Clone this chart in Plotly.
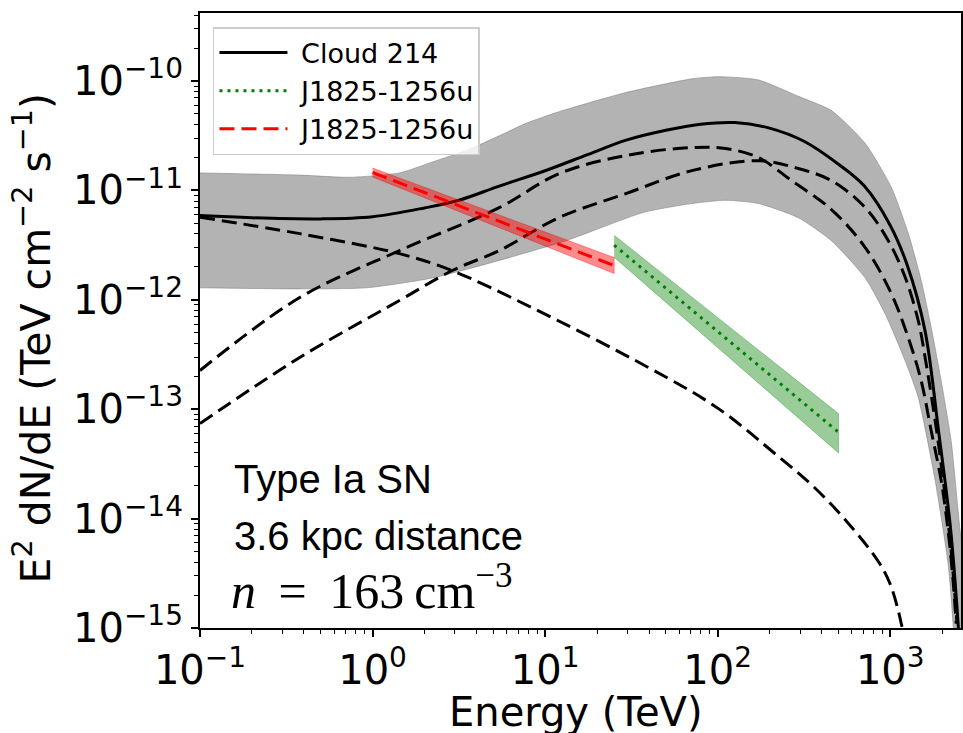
import numpy as np
import plotly.graph_objects as go

# ---------------- data (log10 E [TeV], log10 E^2 dN/dE [TeV cm^-2 s^-1]) ----------------
total_logE = [-1.0, -0.7, -0.3, 0.0, 0.3, 0.5, 0.734, 1.0, 1.25, 1.47, 1.7, 1.9, 2.1, 2.3, 2.5, 2.7, 2.85,
              3.0, 3.1, 3.2, 3.28, 3.35, 3.395]
total_logF = [-11.23, -11.25, -11.26, -11.24, -11.16, -11.09, -10.96, -10.82, -10.67, -10.54, -10.45, -10.395,
              -10.38, -10.43, -10.55, -10.76, -10.96, -11.32, -11.69, -12.27, -13.2, -14.1, -15.0]

comp1_logE = [-1.0, -0.422, 0.156, 0.462, 0.925, 1.6, 2.0, 2.35, 2.55, 2.75, 2.93, 3.0, 3.064, 3.09]
comp1_logF = [-11.245, -11.395, -11.578, -11.734, -12.073, -12.62, -12.99, -13.43, -13.70, -14.03, -14.39,
              -14.6, -14.96, -15.2]

comp2_logE = [-1.0, -0.422, 0.156, 0.734, 1.081, 1.468, 1.850, 2.046, 2.237, 2.428, 2.659, 2.855, 3.006,
              3.104, 3.179, 3.237, 3.295, 3.335, 3.364, 3.382]
comp2_logF = [-12.646, -11.979, -11.55, -11.157, -10.846, -10.681, -10.608, -10.617, -10.70, -10.91, -11.175,
              -11.522, -11.943, -12.345, -12.738, -13.195, -13.652, -14.109, -14.566, -14.959]

comp3_logE = [-1.0, -0.422, 0.156, 0.462, 0.734, 1.081, 1.468, 1.850, 2.237, 2.468, 2.659, 2.855, 2.988,
              3.087, 3.162, 3.202, 3.277, 3.347, 3.387]
comp3_logF = [-13.131, -12.527, -12.006, -11.732, -11.55, -11.248, -11.029, -10.819, -10.728, -10.80, -10.91,
              -11.157, -11.458, -11.796, -12.189, -12.527, -13.29, -14.2, -14.96]

band_up_logE = [-1.0, -0.42, -0.133, 0.156, 0.347, 0.55, 0.734, 0.9, 1.081, 1.468, 1.850, 2.006, 2.237, 2.468,
                2.659, 2.855, 3.006, 3.104, 3.179, 3.237, 3.295, 3.353, 3.405, 3.45]
band_up_logF = [-10.84, -10.86, -10.88, -10.84, -10.74, -10.63, -10.50, -10.38, -10.28, -10.105, -9.98, -9.96,
                -9.99, -10.14, -10.27, -10.57, -10.97, -11.39, -11.82, -12.25, -12.74, -13.29, -14.11, -14.6]
band_lo_logE = [-1.0, -0.42, -0.035, 0.347, 0.734, 1.121, 1.572, 1.850, 2.046, 2.237, 2.468, 2.659, 2.855,
                2.971, 3.087, 3.162, 3.260, 3.335, 3.364, 3.38]
band_lo_logF = [-11.89, -11.90, -11.89, -11.80, -11.64, -11.46, -11.20, -11.12, -11.09, -11.12, -11.25, -11.46,
                -11.80, -12.13, -12.56, -12.89, -13.65, -14.41, -14.96, -15.5]

red_logE = [0.0, 1.40]
red_logF = [-10.836, -11.687]
red_up_logF = [-10.795, -11.614]
red_lo_logF = [-10.877, -11.76]

green_logE = [1.40, 2.70]
green_logF = [-11.50, -13.21]
green_up_logF = [-11.41, -13.04]
green_lo_logF = [-11.61, -13.40]

x_tickvals = [0.1, 1, 10, 100, 1000]
x_ticktext = ["10<sup>−1</sup>", "10<sup>0</sup>", "10<sup>1</sup>", "10<sup>2</sup>", "10<sup>3</sup>"]
y_tickvals = [1e-15, 1e-14, 1e-13, 1e-12, 1e-11, 1e-10]
y_ticktext = ["10<sup>−15</sup>", "10<sup>−14</sup>", "10<sup>−13</sup>", "10<sup>−12</sup>",
              "10<sup>−11</sup>", "10<sup>−10</sup>"]

legend_names = ["Cloud 214", "J1825-1256u", "J1825-1256u"]


def p(a):
    return list(10 ** np.asarray(a, dtype=float))


fig = go.Figure()

# gray uncertainty band
fig.add_trace(go.Scatter(
    x=p(band_up_logE + band_lo_logE[::-1]),
    y=p(band_up_logF + band_lo_logF[::-1]),
    fill="toself", fillcolor="rgba(128,128,128,0.6)",
    line=dict(color="rgba(128,128,128,0.7)", width=0.8, shape="spline", smoothing=0.6),
    mode="lines", showlegend=False, hoverinfo="skip"))

dash_style = dict(color="black", width=3, dash="15px,7px")
for lx, ly in [(comp1_logE, comp1_logF), (comp2_logE, comp2_logF), (comp3_logE, comp3_logF)]:
    fig.add_trace(go.Scatter(x=p(lx), y=p(ly), mode="lines", line=dict(shape="spline", smoothing=1.0, **dash_style),
                             showlegend=False, hoverinfo="skip"))

fig.add_trace(go.Scatter(x=p(total_logE), y=p(total_logF), mode="lines",
                         line=dict(color="black", width=3, shape="spline", smoothing=1.0),
                         name="\u00a0" + legend_names[0], legendgroup="a"))

# green band + dotted line
fig.add_trace(go.Scatter(
    x=p(green_logE + green_logE[::-1]), y=p(green_up_logF + green_lo_logF[::-1]),
    fill="toself", fillcolor="rgba(0,128,0,0.4)", line=dict(color="rgba(0,128,0,0.4)", width=0.8),
    mode="lines", showlegend=False, legendgroup="b", hoverinfo="skip"))
fig.add_trace(go.Scatter(x=p(green_logE), y=p(green_logF), mode="lines",
                         line=dict(color="#008000", width=3, dash="3px,5px"),
                         name="\u00a0" + legend_names[1], legendgroup="b"))

# red band + dashed line
fig.add_trace(go.Scatter(
    x=p(red_logE + red_logE[::-1]), y=p(red_up_logF + red_lo_logF[::-1]),
    fill="toself", fillcolor="rgba(255,0,0,0.45)", line=dict(color="rgba(255,0,0,0.45)", width=0.8),
    mode="lines", showlegend=False, legendgroup="c", hoverinfo="skip"))
fig.add_trace(go.Scatter(x=p(red_logE), y=p(red_logF), mode="lines",
                         line=dict(color="#ff0000", width=3, dash="15px,7px"),
                         name="\u00a0" + legend_names[2], legendgroup="c"))

minor_x = [k * 10.0 ** d for d in range(-1, 4) for k in range(2, 10) if k * 10.0 ** d < 2600]
minor_y = [k * 10.0 ** d for d in range(-15, -9) for k in range(2, 10) if k * 10.0 ** d < 4.2e-10]

tick_font = dict(family="DejaVu Sans", size=40, color="black")
fig.update_xaxes(type="log", range=[-1, 3.41], showline=True, linecolor="black", linewidth=2, mirror=True,
                 ticks="outside", ticklen=7, tickwidth=1.6, tickcolor="black",
                 tickmode="array", tickvals=x_tickvals, ticktext=x_ticktext, tickfont=tick_font,
                 ticklabelstandoff=-1,
                 showgrid=False, zeroline=False,
                 minor=dict(tickmode="array", tickvals=minor_x, ticks="outside", ticklen=4, tickwidth=1.2,
                            tickcolor="black", showgrid=False))
fig.update_yaxes(type="log", range=[-15, -9.378], showline=True, linecolor="black", linewidth=2, mirror=True,
                 ticks="outside", ticklen=7, tickwidth=1.6, tickcolor="black",
                 tickmode="array", tickvals=y_tickvals, ticktext=y_ticktext, tickfont=tick_font,
                 showgrid=False, zeroline=False,
                 minor=dict(tickmode="array", tickvals=minor_y, ticks="outside", ticklen=4, tickwidth=1.2,
                            tickcolor="black", showgrid=False))

L, T, W, H = 200, 13, 763, 615


def px(xp):
    return (xp - L) / W


def py(yp):
    return (T + H - yp) / H


annots = [
    dict(text="Type Ia SN", x=px(232), y=py(479), xanchor="left", yanchor="middle",
         font=dict(family="Liberation Sans", size=40, color="black")),
    dict(text="3.6 kpc distance", x=px(232), y=py(536), xanchor="left", yanchor="middle",
         font=dict(family="Liberation Sans", size=40, color="black")),
    dict(text="<i>n</i>\u00a0\u2009=\u2009\u00a0163\u2009cm<sup>−3</sup>", x=px(229), y=py(587),
         xanchor="left", yanchor="middle",
         font=dict(family="Liberation Serif", size=50, color="black")),
    dict(text="E<sup>2</sup> dN/dE (TeV cm<sup>−2</sup> s<sup>−1</sup>)", x=px(32), y=py(338),
         xanchor="center", yanchor="middle", textangle=-90,
         font=dict(family="DejaVu Sans", size=41, color="black")),
    dict(text="Energy (TeV)", x=px(577), y=py(712), xanchor="center", yanchor="middle",
         font=dict(family="DejaVu Sans", size=40, color="black")),
]
for a in annots:
    fig.add_annotation(xref="paper", yref="paper", showarrow=False, **a)

fig.update_layout(
    width=963, height=733,
    margin=dict(l=L, r=963 - L - W, t=T, b=733 - T - H),
    plot_bgcolor="white", paper_bgcolor="white",
    legend=dict(x=px(213), y=py(27), xanchor="left", yanchor="top",
                bgcolor="rgba(255,255,255,0.8)", bordercolor="#cccccc", borderwidth=1.5,
                font=dict(family="DejaVu Sans", size=27, color="black"),
                itemwidth=68, tracegroupgap=6, traceorder="normal"),
)

fig.write_html("out.html", config={"displayModeBar": False},
               post_script="document.body.style.margin='0';document.body.style.overflow='hidden';")
